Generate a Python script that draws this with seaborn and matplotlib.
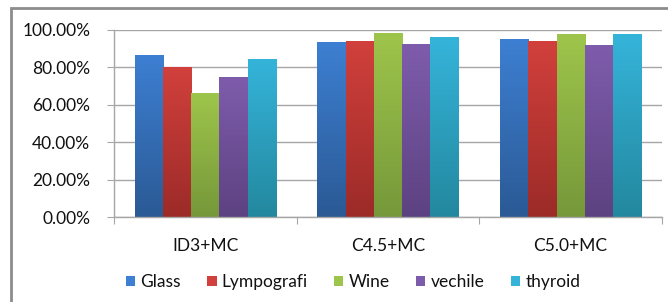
import numpy as np
import pandas as pd
import seaborn as sns
import matplotlib.pyplot as plt
from matplotlib.patches import Rectangle
from matplotlib.colors import LinearSegmentedColormap
from matplotlib.ticker import PercentFormatter

categories = ["ID3+MC", "C4.5+MC", "C5.0+MC"]
series = ["Glass", "Lympografi", "Wine", "vechile", "thyroid"]
glass = [0.864, 0.937, 0.951]
lympografi = [0.802, 0.943, 0.940]
wine = [0.664, 0.985, 0.980]
vechile = [0.751, 0.923, 0.918]
thyroid = [0.847, 0.965, 0.980]

# top / bottom colours of the excel-style gradient
top_colors = ["#3D7FD2", "#D1403C", "#9EC54B", "#7E5CAC", "#35B4DA"]
bottom_colors = ["#2B5A95", "#9C2B28", "#76983A", "#5D4281", "#23889F"]

df = pd.DataFrame({
    "category": np.repeat(categories, len(series)),
    "series": series * len(categories),
    "value": np.column_stack([glass, lympografi, wine, vechile, thyroid]).ravel(),
})

plt.rcParams["font.family"] = ["Lato", "DejaVu Sans"]
fsize = 12.5
tcolor = "#111111"

fig = plt.figure(figsize=(6.68, 3.02), dpi=100)
W, H = 668, 302
ax = fig.add_axes([114 / W, (H - 217) / H, (662 - 114) / W, (217 - 30) / H])

sns.barplot(data=df, x="category", y="value", hue="series",
            palette=top_colors, width=0.775, gap=0, ax=ax,
            legend=True, errorbar=None, linewidth=0, saturation=1)

# gradient fill clipped to each bar
for i, container in enumerate(ax.containers):
    cmap = LinearSegmentedColormap.from_list("g", [bottom_colors[i], top_colors[i]])
    for bar in container:
        x0, y0 = bar.get_x(), bar.get_y()
        w, h = bar.get_width(), bar.get_height()
        bar.set_facecolor("none")
        grad = np.linspace(0, 1, 100).reshape(-1, 1)
        im = ax.imshow(grad, cmap=cmap, origin="lower", aspect="auto",
                       extent=[x0, x0 + w, y0, y0 + h], zorder=2)
        im.set_clip_path(bar)

ax.set_xlim(-0.5, 2.5)
ax.set_ylim(0, 1)
ax.yaxis.set_major_formatter(PercentFormatter(1.0, decimals=2))
ax.set_yticks(np.arange(0, 1.01, 0.2))
ax.grid(axis="y", color="#A6A6A6", linewidth=1, zorder=0)
ax.set_axisbelow(True)
ax.set_xlabel("")
ax.set_ylabel("")

for s in ["top", "right"]:
    ax.spines[s].set_visible(False)
for s in ["left", "bottom"]:
    ax.spines[s].set_color("#A6A6A6")
    ax.spines[s].set_linewidth(1)

ax.tick_params(axis="y", length=5, color="#A6A6A6", labelsize=fsize,
               labelcolor=tcolor, pad=12)
ax.set_xticks([-0.5, 0.5, 1.5, 2.5], minor=False)
ax.set_xticklabels([])
ax.tick_params(axis="x", which="major", length=5, color="#A6A6A6")
ax.set_xticks([0, 1, 2], minor=True)
ax.set_xticklabels(categories, minor=True)
ax.tick_params(axis="x", which="minor", length=0, labelsize=fsize,
               labelcolor=tcolor, pad=15)

handles, labels = ax.get_legend_handles_labels()
ax.get_legend().remove()
for hnd, c in zip(handles, top_colors):
    hnd.set_facecolor(c)
leg = fig.legend(handles, labels, loc="center", bbox_to_anchor=(353 / W, (H - 282) / H),
                 ncol=5, frameon=False, fontsize=fsize, handlelength=0.55,
                 handleheight=0.55, handletextpad=0.3, columnspacing=1.5)
for t in leg.get_texts():
    t.set_color(tcolor)

# chart border (excel chart area)
fig.patches.append(Rectangle((11 / W, -0.05), 1.2, (H - 8) / H + 0.05,
                             transform=fig.transFigure, fill=False,
                             edgecolor="#8C8C8C", linewidth=2))

fig.savefig("out.png", dpi=100)
